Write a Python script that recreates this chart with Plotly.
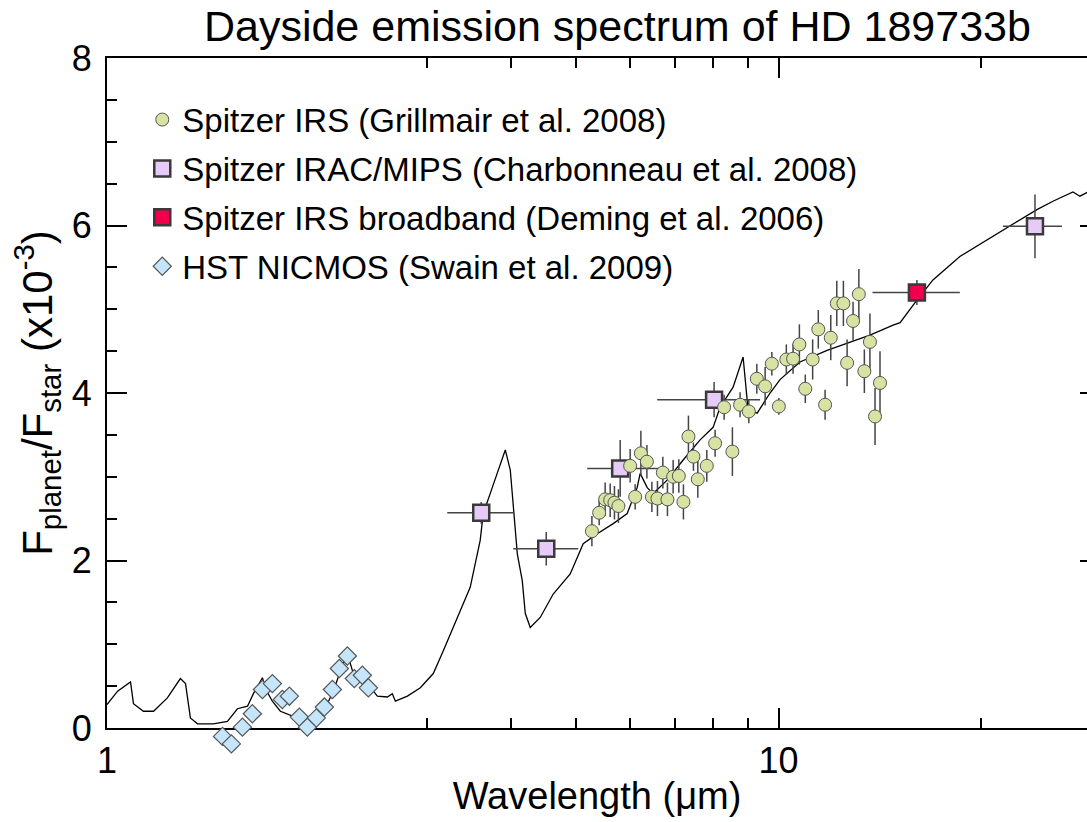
import plotly.graph_objects as go

# ---------------- data ----------------
# model spectrum
model_wl = [1.0, 1.037, 1.084, 1.095, 1.133, 1.173, 1.230, 1.286, 1.309, 1.331, 1.364, 1.440,
            1.511, 1.564, 1.619, 1.652, 1.704, 1.721, 1.763, 1.812, 1.894, 1.988, 2.057, 2.129,
            2.173, 2.226, 2.280, 2.327, 2.442, 2.527, 2.615, 2.660, 2.688, 2.801, 2.928, 3.061,
            3.167, 3.244, 3.357, 3.474, 3.595, 3.633, 3.747, 3.825, 3.918, 3.986, 4.027, 4.083,
            4.153, 4.196, 4.268, 4.417, 4.618, 4.895, 5.118, 5.370, 5.673, 5.951, 6.158, 6.222,
            6.374, 6.505, 6.825, 7.210, 7.642, 7.990, 8.184, 8.557, 8.855, 9.008, 9.292, 9.713,
            10.05, 10.76, 11.81, 13.68, 14.81, 15.17, 16.07, 16.98, 18.62, 20.85, 22.87, 24.25,
            25.62, 27.44, 28.10, 28.88]
model_val = [0.28, 0.44, 0.55, 0.29, 0.20, 0.20, 0.36, 0.59, 0.53, 0.12, 0.05, 0.05,
             0.08, 0.23, 0.26, 0.41, 0.60, 0.47, 0.32, 0.20, 0.14, 0.11, 0.17, 0.29,
             0.44, 0.68, 0.89, 0.65, 0.53, 0.38, 0.37, 0.41, 0.32, 0.38, 0.48, 0.65,
             0.92, 1.12, 1.40, 1.68, 2.24, 2.56, 2.87, 3.08, 3.32, 3.08, 2.63, 2.08,
             1.76, 1.37, 1.20, 1.32, 1.60, 1.84, 2.20, 2.32, 2.44, 2.56, 2.87, 3.04,
             2.87, 2.80, 2.96, 3.20, 3.44, 3.59, 3.83, 4.07, 4.43, 3.80, 3.76, 4.00,
             4.16, 4.37, 4.51, 4.69, 4.81, 4.84, 5.11, 5.35, 5.63, 5.87, 6.07, 6.19,
             6.29, 6.40, 6.35, 6.40]

# Spitzer IRS (Grillmair et al. 2008)
irs_wl = [5.273, 5.406, 5.518, 5.614, 5.697, 5.775, 6.012, 6.116, 6.237, 6.367, 6.477, 6.602,
          6.725, 6.832, 6.967, 7.104, 7.217, 7.342, 7.469, 7.582, 7.819, 8.045, 8.297, 8.536,
          8.764, 9.030, 9.282, 9.550, 9.772, 10.01, 10.27, 10.51, 10.74, 10.96, 11.24, 11.46,
          11.73, 11.96, 12.21, 12.49, 12.65, 12.91, 13.17, 13.42, 13.68, 13.92, 14.16]
irs_val = [2.35, 2.57, 2.73, 2.72, 2.69, 2.65, 3.13, 2.76, 3.28, 3.18, 2.76, 2.74,
           3.05, 2.73, 3.00, 3.01, 2.70, 3.48, 3.24, 2.97, 3.13, 3.40, 3.83, 3.30,
           3.86, 3.78, 4.17, 4.08, 4.35, 3.84, 4.40, 4.41, 4.58, 4.05, 4.40, 4.76,
           3.86, 4.66, 5.07, 5.07, 4.36, 4.86, 5.18, 4.26, 4.61, 3.72, 4.12]
irs_err = [0.18, 0.15, 0.20, 0.20, 0.20, 0.20, 0.20, 0.15, 0.27, 0.20, 0.18, 0.21,
           0.19, 0.20, 0.20, 0.20, 0.21, 0.25, 0.17, 0.22, 0.19, 0.16, 0.15, 0.29,
           0.15, 0.14, 0.18, 0.23, 0.14, 0.10, 0.18, 0.18, 0.24, 0.17, 0.24, 0.23,
           0.18, 0.27, 0.27, 0.27, 0.28, 0.23, 0.30, 0.26, 0.34, 0.34, 0.38]

# Spitzer IRAC/MIPS (Charbonneau et al. 2008)
irac_wl = [3.608, 4.509, 5.810, 8.017, 24.09]
irac_val = [2.57, 2.14, 3.10, 3.92, 5.99]
irac_lo = [3.211, 4.027, 5.189, 6.596, 21.58]
irac_hi = [4.027, 5.031, 6.663, 9.386, 26.42]
irac_err = [0.13, 0.20, 0.34, 0.21, 0.38]

# Spitzer IRS broadband (Deming et al. 2006)
bb_wl = [16.07]
bb_val = [5.20]
bb_lo = [13.80]
bb_hi = [18.62]
bb_err = [0.15]

# HST NICMOS (Swain et al. 2009)
nic_wl = [1.486, 1.532, 1.591, 1.646, 1.704, 1.763, 1.824, 1.869, 1.934, 1.988, 2.050, 2.107,
          2.166, 2.218, 2.280, 2.335, 2.400, 2.450]
nic_val = [-0.10, -0.19, 0.01, 0.17, 0.46, 0.53, 0.34, 0.38, 0.13, 0.01, 0.12, 0.25,
           0.46, 0.71, 0.86, 0.59, 0.63, 0.48]

x_major = [1, 10]
x_minor = [3, 4, 5, 6, 7, 8, 9, 20]
y_major = [0, 2, 4, 6, 8]
y_range = [0, 8]

# ---------------- geometry ----------------
W, H = 1087, 822
M_T, M_B = 58, 64          # plot area incl. a strip below the x axis
BELOW = 30                 # px of that strip (lets markers dip under the axis)
area_h = H - M_T - M_B
main_h = area_h - BELOW
y_dom0 = BELOW / area_h
y3_low = y_range[1] - (y_range[1] - y_range[0]) * area_h / main_h

FONT = "Liberation Sans, Arial, sans-serif"
ERR = "#444444"

fig = go.Figure()

fig.add_trace(go.Scatter(x=model_wl, y=model_val, mode="lines",
                         line=dict(color="black", width=1.3),
                         showlegend=False, hoverinfo="skip"))

fig.add_trace(go.Scatter(
    x=irac_wl, y=irac_val, mode="markers",
    name="Spitzer IRAC/MIPS (Charbonneau et al. 2008)", legendrank=2, legendgroup="b",
    marker=dict(symbol="square", size=16, color="#e6caf8",
                line=dict(color="#3a3a3a", width=2.5)),
    error_x=dict(type="data", symmetric=False,
                 array=[h - w for h, w in zip(irac_hi, irac_wl)],
                 arrayminus=[w - l for w, l in zip(irac_wl, irac_lo)],
                 color=ERR, thickness=1.5, width=0),
    error_y=dict(type="data", array=irac_err, color=ERR, thickness=1.5, width=0)))

fig.add_trace(go.Scatter(
    x=bb_wl, y=bb_val, mode="markers",
    name="Spitzer IRS broadband (Deming et al. 2006)", legendrank=3, legendgroup="c",
    marker=dict(symbol="square", size=16, color="#f0004c",
                line=dict(color="#3a3a3a", width=2.5)),
    error_x=dict(type="data", symmetric=False,
                 array=[h - w for h, w in zip(bb_hi, bb_wl)],
                 arrayminus=[w - l for w, l in zip(bb_wl, bb_lo)],
                 color=ERR, thickness=1.5, width=0),
    error_y=dict(type="data", array=bb_err, color=ERR, thickness=1.5, width=0)))

fig.add_trace(go.Scatter(
    x=nic_wl, y=nic_val, mode="markers", yaxis="y3",
    name="HST NICMOS (Swain et al. 2009)", legendrank=4, legendgroup="d",
    marker=dict(symbol="diamond", size=14, color="#c4e5fa",
                line=dict(color="#555555", width=1.2))))

fig.add_trace(go.Scatter(
    x=irs_wl, y=irs_val, mode="markers",
    name="Spitzer IRS (Grillmair et al. 2008)", legendrank=1, legendgroup="a",
    marker=dict(symbol="circle", size=13, color="#d6e3a2",
                line=dict(color="#555555", width=1)),
    error_y=dict(type="data", array=irs_err, color=ERR, thickness=1.5, width=0)))

# helper trace so that the right-hand tick axis is drawn
fig.add_trace(go.Scatter(x=[], y=[], yaxis="y2", showlegend=False, hoverinfo="skip"))

fig.update_layout(
    width=W, height=H,
    margin=dict(l=107, r=0, t=M_T, b=M_B, pad=0),
    paper_bgcolor="white", plot_bgcolor="rgba(0,0,0,0)",
    font=dict(family=FONT, color="black"),
    title=dict(text="Dayside emission spectrum of HD 189733b",
               font=dict(size=43, family=FONT, color="black"),
               x=0.568, xref="container", xanchor="center",
               y=1 - 26 / H, yref="container", yanchor="middle"),
    showlegend=True,
    legend=dict(x=0.036, y=0.952, xanchor="left", yanchor="top",
                bgcolor="rgba(0,0,0,0)", borderwidth=0,
                font=dict(size=33, family=FONT, color="black"),
                traceorder="grouped", tracegroupgap=3, itemsizing="trace"),
    xaxis=dict(type="log", range=[0, 1.4593],
               tickmode="array", tickvals=x_major, ticktext=[str(v) for v in x_major],
               ticks="inside", ticklen=20, tickwidth=2, tickcolor="black",
               showline=True, linecolor="black", linewidth=2, mirror="ticks",
               showgrid=False, zeroline=False,
               tickfont=dict(size=36, family=FONT),
               minor=dict(tickmode="array", tickvals=x_minor, ticks="inside",
                          ticklen=10, tickwidth=2, tickcolor="black", showgrid=False),
               title=dict(text="\u00a0\u00a0Wavelength (μm)", font=dict(size=38, family=FONT),
                          standoff=2),
               automargin=False),
    yaxis=dict(domain=[y_dom0, 1], range=y_range, tickmode="array", tickvals=y_major,
               ticks="inside", ticklen=20, tickwidth=2, tickcolor="black",
               showline=True, linecolor="black", linewidth=2,
               showgrid=False, zeroline=False,
               tickfont=dict(size=36, family=FONT), ticklabelstandoff=6,
               minor=dict(dtick=0.5, ticks="inside", ticklen=10, tickwidth=2,
                          tickcolor="black", showgrid=False),
               title=dict(text="F<sub>planet</sub>/F<sub>star</sub> (x10<sup>-3</sup>)",
                          font=dict(size=42, family=FONT), standoff=6),
               automargin=False),
    yaxis2=dict(range=y_range, overlaying="y", side="right", tickmode="array",
                tickvals=y_major, ticks="inside", ticklen=7, tickwidth=2,
                tickcolor="black", showticklabels=False, showline=False,
                showgrid=False, zeroline=False, automargin=False),
    yaxis3=dict(domain=[0, 1], range=[y3_low, y_range[1]], anchor="x",
                showticklabels=False, ticks="", showline=False, showgrid=False,
                zeroline=False, automargin=False),
)

fig.write_html("out.html")
